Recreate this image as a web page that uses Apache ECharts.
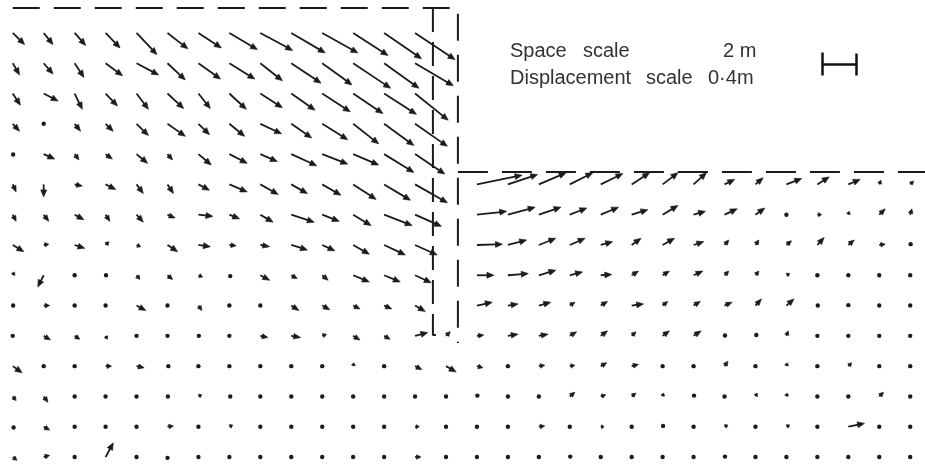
<!DOCTYPE html>
<html>
<head>
<meta charset="utf-8">
<script src="https://cdn.jsdelivr.net/npm/echarts@6/dist/echarts.min.js"></script>
<style>
  html, body { margin: 0; padding: 0; background: #fff; }
  #chart { width: 925px; height: 464px; }
</style>
</head>
<body>
<div id="chart"></div>
<script>
// Node layout (metres)
const GRID_STEP = 1.82;      // spacing between nodes
const FIRST_DEPTH = 1.5;     // depth of the first node row below ground
const MAG = 5;               // 0.4 m of displacement drawn as 2 m of space
const RIGHT_COL0 = 15;       // first column on the excavated side
const RIGHT_ROW0 = 5;        // first node row below excavation level

// Geometry (metres)
const WALL_INNER_X = 24.71;
const WALL_OUTER_X = 26.18;
const EXCAVATION_DEPTH = 9.85;
const WALL_TOE_INNER = 19.65;
const WALL_TOE_OUTER = 20.13;
const X_RIGHT_EDGE = 53.65;

// Displacements in cm: u = horizontal (+ right), v = vertical (+ up)
// Retained side, columns 0..14, rows 0..14 (null = inside wall)
const leftU = [
  [14, 11, 13, 17, 24, 24, 27, 33, 38, 40, 42, 41, 44, 47, null],
  [8, 11, 11, 20, 26, 21, 26, 30, 26, 35, 35, 44, 41, 45, null],
  [9, 17, 9, 14, 14, 19, 14, 20, 26, 28, 33, 35, 38, 39, null],
  [8, 0, 7, 9, 14, 21, 13, 18, 25, 24, 30, 30, 35, 38, null],
  [1, 13, 5, 8, 13, 6, 15, 21, 20, 30, 30, 30, 35, 35, null],
  [4, 0, 9, 12, 8, 7, 13, 21, 21, 19, 22, 27, 31, 38, null],
  [4, 6, 11, 5, 8, 9, 17, 12, 15, 27, 20, 21, 33, 31, null],
  [13, 6, 12, 4, 5, 12, 14, 8, 11, 19, 15, 19, 25, 26, null],
  [2, -7, 0, 1, 4, 6, 5, 2, 11, 7, 7, 19, 19, 19, null],
  [1, 7, 0, 0, 11, 0, 4, 0, 0, 9, 9, 8, 9, 12, null],
  [0, 8, 6, 2, 0, 0, 1, 0, 9, 11, 5, 8, 7, 15, 5],
  [11, 0, 0, 7, 9, 2, 0, 0, 0, 0, 0, 1, 0, 8, 12],
  [4, 5, 0, 0, 0, 1, 4, 2, 0, 0, 0, 0, 0, 0, 0],
  [2, 7, 0, 0, 0, 7, 0, 4, 0, 0, 0, 0, 0, 5, 0],
  [5, 7, 0, 9, 0, 0, 0, 0, 0, 0, 0, 0, 0, 7, 0]
];
const leftV = [
  [-14, -14, -15, -18, -26, -19, -18, -20, -21, -24, -24, -27, -31, -32, null],
  [-14, -13, -17, -15, -14, -20, -19, -19, -21, -24, -26, -30, -30, -27, null],
  [-14, -9, -19, -15, -19, -18, -18, -19, -17, -20, -22, -24, -25, -32, null],
  [-9, 0, -9, -9, -14, -15, -13, -15, -12, -17, -19, -24, -26, -27, null],
  [-1, -6, -7, -6, -11, -7, -13, -11, -9, -14, -12, -13, -22, -24, null],
  [-9, -15, -2, -6, -11, -11, -7, -9, -12, -11, -13, -18, -19, -22, null],
  [-8, -8, -6, -8, -9, -4, -2, -5, -9, -9, -8, -13, -13, -14, null],
  [-8, 1, -4, 4, -2, -8, -2, -1, -2, -6, -7, -11, -12, -12, null],
  [4, -14, 0, 0, -5, -5, -2, -2, -6, -4, -6, -8, -8, -9, null],
  [0, 0, 0, 0, -6, 0, -6, 0, 0, -6, -5, -4, -4, -7, null],
  [0, -5, -4, -4, 0, 0, 0, 0, -2, -2, 2, -5, -4, 4, 5],
  [-8, 0, 0, 0, -2, 0, 0, 0, 0, 0, 0, 4, 0, -4, -7],
  [-5, -7, 0, 0, 0, 0, 2, 0, 0, 0, 0, 0, 0, 0, 0],
  [-2, -4, 0, 0, 0, 1, 0, 2, 0, 0, 0, 0, 0, 0, 0],
  [-4, 2, 0, 17, 0, -2, 0, 0, 0, 0, 0, 0, 0, 0, 0]
];
// Excavated side, columns 15..29, rows 5..14
const rightU = [
  [53, 35, 32, 27, 26, 21, 18, 15, 12, 9, 18, 14, 14, 2, 4],
  [35, 32, 26, 20, 21, 19, 18, 14, 15, 11, 0, 5, 1, 7, 2],
  [30, 22, 20, 18, 14, 11, 14, 12, 5, 4, 6, 8, 7, 7, 1],
  [20, 24, 20, 15, 13, 8, 8, 11, 5, 4, 4, 0, 0, 0, 0],
  [18, 12, 14, 6, 8, 14, 6, 8, 9, 7, 9, 1, 0, 0, 0],
  [8, 12, 11, 8, 8, 5, 8, 9, 1, 2, 2, 0, 0, 0, 0],
  [7, 0, 7, 6, 7, 8, 0, 0, 4, 0, 1, 0, 4, 0, 0],
  [1, 0, 0, 6, 6, 5, 1, 1, 0, 2, 1, 0, 0, 5, 0],
  [0, 0, 7, 0, 4, 0, 1, 0, 4, 0, 4, 0, 19, 0, 0],
  [0, 0, 0, 1, 0, 0, 0, 0, 1, 0, 0, 0, 0, 0, 0]
];
const rightV = [
  [11, 12, 14, 14, 13, 14, 14, 14, 6, 8, 7, 9, 6, 5, 4],
  [4, 9, 9, 8, 9, 6, 11, 4, 7, 8, 0, 0, 4, 7, 7],
  [1, 6, 8, 8, 4, 8, 8, 4, 6, 6, 5, 9, 6, 1, 2],
  [0, 2, 6, 4, 1, 5, 5, 5, 5, 5, 2, 0, 0, 0, 0],
  [4, 2, 4, 4, 5, 2, 5, 5, 4, 8, 8, 0, 1, 0, 0],
  [1, 2, 2, 5, 6, 5, 6, 6, 1, 2, 6, 0, 0, 0, 0],
  [-2, 0, 1, 1, 4, 2, 0, 0, 6, 0, 4, 0, 4, 0, 0],
  [2, 0, 0, 5, 2, 4, 4, 2, 0, 4, 4, 0, 0, 5, 0],
  [0, 0, 1, 0, 0, 0, 2, 0, 2, 0, 2, 0, 4, 0, 0],
  [0, 0, 0, 1, 0, 0, 0, 0, 1, 0, 0, 0, 0, 0, 0]
];

const INK = '#1b1b1b';

function collect(uRows, vRows, col0, row0, out) {
  uRows.forEach((row, j) => {
    row.forEach((u, i) => {
      if (u === null) return;
      out.push([(col0 + i) * GRID_STEP, FIRST_DEPTH + (row0 + j) * GRID_STEP, u, vRows[j][i]]);
    });
  });
  return out;
}
const vectors = collect(rightU, rightV, RIGHT_COL0, RIGHT_ROW0, collect(leftU, leftV, 0, 0, []));

function renderArrow(params, api) {
  const x = api.value(0), d = api.value(1), u = api.value(2), v = api.value(3);
  const p0 = api.coord([x, d]);
  const p1 = api.coord([x + u / 100 * MAG, d - v / 100 * MAG]);
  const dx = p1[0] - p0[0], dy = p1[1] - p0[1];
  const len = Math.hypot(dx, dy);
  if (len < 2.5) {
    return { type: 'circle', shape: { cx: p0[0] + dx / 2, cy: p0[1] + dy / 2, r: 2.2 }, style: { fill: INK } };
  }
  const ex = dx / len, ey = dy / len;
  const hl = Math.min(7, len * 0.75);
  const hw = Math.min(3, 1.6 + len * 0.12);
  const bx = p1[0] - ex * hl, by = p1[1] - ey * hl;
  return {
    type: 'group',
    children: [
      { type: 'line', shape: { x1: p0[0], y1: p0[1], x2: bx + ex, y2: by + ey },
        style: { stroke: INK, lineWidth: 1.8 } },
      { type: 'polygon',
        shape: { points: [[p1[0], p1[1]], [bx - ey * hw, by + ex * hw], [bx + ey * hw, by - ex * hw]] },
        style: { fill: INK, stroke: INK, lineWidth: 0.6 } }
    ]
  };
}

function dashed(points, dash) {
  return {
    type: 'line', data: points, symbol: 'none', silent: true, animation: false,
    lineStyle: { color: INK, width: 2, type: dash }, z: 1
  };
}

const TEXT_FONT = '20px "Liberation Sans"';
const TEXT_FILL = '#333333';

const chart = echarts.init(document.getElementById('chart'), null, { renderer: 'canvas' });
chart.setOption({
  backgroundColor: '#ffffff',
  animation: false,
  grid: { left: 0, right: 0, top: 0, bottom: 0 },
  xAxis: { type: 'value', min: -0.75, max: X_RIGHT_EDGE, show: false },
  yAxis: { type: 'value', min: -0.48, max: 27.4, inverse: true, show: false },
  series: [
    // ground surface and outer face of wall
    dashed([[0, 0], [WALL_OUTER_X, 0], [WALL_OUTER_X, WALL_TOE_OUTER]], [27, 14]),
    // excavation level
    dashed([[WALL_OUTER_X, EXCAVATION_DEPTH], [X_RIGHT_EDGE, EXCAVATION_DEPTH]], [30, 14]),
    // inner face of wall
    dashed([[WALL_INNER_X, 0], [WALL_INNER_X, WALL_TOE_INNER], [WALL_INNER_X + 0.6, WALL_TOE_INNER]], [24, 10]),
    {
      type: 'custom', renderItem: renderArrow, data: vectors, silent: true, z: 2,
      encode: { x: 0, y: 1 }
    }
  ],
  graphic: [
    { type: 'text', left: 510, top: 41, style: { text: 'Space', font: TEXT_FONT, fill: TEXT_FILL } },
    { type: 'text', left: 583, top: 41, style: { text: 'scale', font: TEXT_FONT, fill: TEXT_FILL } },
    { type: 'text', left: 723, top: 41, style: { text: '2 m', font: TEXT_FONT, fill: TEXT_FILL } },
    { type: 'text', left: 510, top: 68, style: { text: 'Displacement', font: TEXT_FONT, fill: TEXT_FILL } },
    { type: 'text', left: 646, top: 68, style: { text: 'scale', font: TEXT_FONT, fill: TEXT_FILL } },
    { type: 'text', left: 708, top: 68, style: { text: '0·4m', font: TEXT_FONT, fill: TEXT_FILL } },
    {
      type: 'group', left: 820, top: 50,
      children: [
        { type: 'line', shape: { x1: 1, y1: 0, x2: 1, y2: 23 }, style: { stroke: '#111', lineWidth: 2.5 } },
        { type: 'line', shape: { x1: 35, y1: 1, x2: 35, y2: 23 }, style: { stroke: '#111', lineWidth: 2.5 } },
        { type: 'line', shape: { x1: 1, y1: 12, x2: 35, y2: 12 }, style: { stroke: '#111', lineWidth: 2.5 } }
      ]
    }
  ]
});
</script>
</body>
</html>
